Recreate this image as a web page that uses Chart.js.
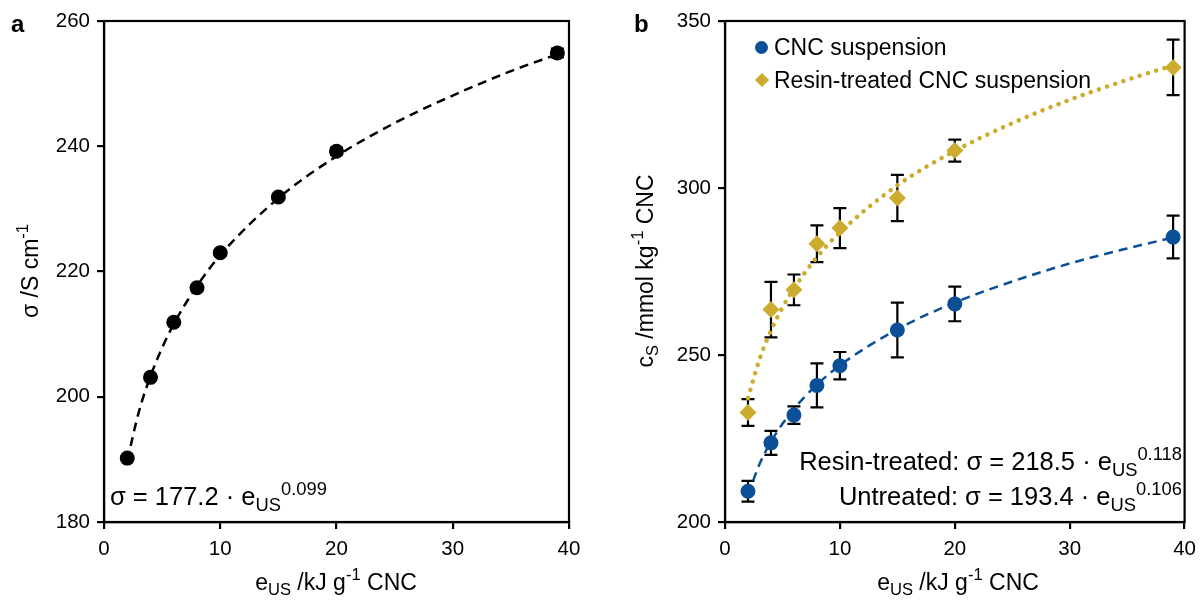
<!DOCTYPE html>
<html>
<head>
<meta charset="utf-8">
<script src="https://cdn.jsdelivr.net/npm/chart.js@4.4.1/dist/chart.umd.min.js"></script>
<style>
  html, body { margin:0; padding:0; background:#fff; }
  #wrap { position:relative; width:1204px; height:601px; background:#fff; font-family:"Liberation Sans", Arial, sans-serif; color:#000; }
  canvas { position:absolute; top:0; }
  .t { position:absolute; white-space:nowrap; line-height:1; }
  .c { transform:translate(-50%,-50%); }
  .rot { transform:translate(-50%,-50%) rotate(-90deg); }
  sub { font-size:0.72em; vertical-align:-0.32em; line-height:0; }
  sup { font-size:0.72em; vertical-align:0.55em; line-height:0; }
  .lab { font-weight:bold; font-size:24px; }
  .mk { position:absolute; }
</style>
</head>
<body>
<div id="wrap">
  <canvas id="ca" width="600" height="601" style="left:0;width:600px;height:601px"></canvas>
  <canvas id="cb" width="604" height="601" style="left:600px;width:604px;height:601px"></canvas>

  <div class="t lab" style="left:11px;top:12px">a</div>
  <div class="t lab" style="left:634px;top:12px">b</div>

  <div class="t rot" style="left:30px;top:271px;font-size:23px">σ /S cm<sup>-1</sup></div>
  <div class="t rot" style="left:645px;top:271px;font-size:23px">c<sub>S</sub> /mmol kg<sup>-1</sup> CNC</div>

  <div class="t c" style="left:336px;top:582px;font-size:23px">e<sub>US</sub> /kJ g<sup>-1</sup> CNC</div>
  <div class="t c" style="left:958px;top:582px;font-size:23px">e<sub>US</sub> /kJ g<sup>-1</sup> CNC</div>

  <div class="t" style="left:110px;top:484px;font-size:25.5px">σ = 177.2 · e<sub>US</sub><sup>0.099</sup></div>
  <div class="t" style="right:22px;top:449px;font-size:25.5px;text-align:right">Resin-treated: σ = 218.5 · e<sub>US</sub><sup>0.118</sup></div>
  <div class="t" style="right:22px;top:484px;font-size:25.5px;text-align:right">Untreated: σ = 193.4 · e<sub>US</sub><sup>0.106</sup></div>

  <div class="mk" style="left:755px;top:41px;width:13px;height:13px;border-radius:50%;background:#0b4f97"></div>
  <div class="t" style="left:774px;top:36px;font-size:23px">CNC suspension</div>
  <div class="mk" style="left:757px;top:75px;width:10px;height:10px;background:#ccab2e;transform:rotate(45deg)"></div>
  <div class="t" style="left:774px;top:69px;font-size:23px">Resin-treated CNC suspension</div>
</div>
<script>
// ---------- data ----------
const eUS = [2, 4, 6, 8, 10, 15, 20, 39];
const sigmaVals = [190.2, 203.1, 211.9, 217.4, 223.0, 231.9, 239.2, 254.9];
const sigmaErr = [0.3, 0.3, 0.3, 0.3, 0.4, 0.4, 0.6, 0.7];

const fitX = [2, 3, 4, 5, 6, 8, 10, 15, 20, 25, 30, 35, 39];
const sigmaFit = [189.8, 197.6, 203.3, 207.8, 211.6, 217.7, 222.6, 231.7, 238.4, 243.7, 248.1, 252.0, 254.7];

const cncVals = [209.2, 223.7, 232.0, 240.9, 246.8, 257.5, 265.3, 285.3];
const cncErr = [3.1, 3.6, 2.6, 6.6, 4.1, 8.2, 5.2, 6.4];
const resinVals = [232.8, 263.6, 269.5, 283.3, 288.0, 297.0, 311.2, 336.1];
const resinErr = [4.0, 8.3, 4.6, 5.5, 6.0, 6.9, 3.3, 8.3];

const cncFit = [208.1, 217.3, 224.0, 229.4, 233.9, 241.1, 246.9, 257.7, 265.7, 272.0, 277.4, 281.9, 285.2];
const resinFit = [237.1, 248.7, 257.3, 264.2, 269.9, 279.3, 286.7, 300.8, 311.1, 319.4, 326.4, 332.4, 336.7];

const xTicks = [0, 10, 20, 30, 40];
const yTicksA = [180, 200, 220, 240, 260];
const yTicksB = [200, 250, 300, 350];

const BLUE = '#0b4f97';
const GOLD = '#ccab2e';
const FONT = '"Liberation Sans", Arial, sans-serif';

const pts = (xs, ys) => xs.map((x, i) => ({ x: x, y: ys[i] }));

// ---------- plugins ----------
const errorBars = {
  id: 'errorBars',
  beforeDatasetsDraw(chart) {
    const ctx = chart.ctx, xs = chart.scales.x, ys = chart.scales.y;
    ctx.save();
    ctx.strokeStyle = '#000';
    ctx.lineWidth = 2.2;
    chart.data.datasets.forEach(ds => {
      if (!ds.err) return;
      ds.data.forEach((p, i) => {
        const e = ds.err[i];
        const x = xs.getPixelForValue(p.x);
        const y1 = ys.getPixelForValue(p.y + e);
        const y2 = ys.getPixelForValue(p.y - e);
        const w = 6.5;
        ctx.beginPath();
        ctx.moveTo(x, y1); ctx.lineTo(x, y2);
        ctx.moveTo(x - w, y1); ctx.lineTo(x + w, y1);
        ctx.moveTo(x - w, y2); ctx.lineTo(x + w, y2);
        ctx.stroke();
      });
    });
    ctx.restore();
  }
};
const frame = {
  id: 'frame',
  afterDraw(chart) {
    const a = chart.chartArea, ctx = chart.ctx;
    ctx.save();
    ctx.strokeStyle = '#000';
    ctx.lineWidth = 2.2;
    ctx.strokeRect(a.left, a.top, a.right - a.left, a.bottom - a.top);
    ctx.restore();
  }
};

function axes(yMin, yMax, yTicks, yWidth) {
  const tickFont = { family: FONT, size: 20.5 };
  return {
    x: {
      type: 'linear', min: 0, max: 40,
      afterBuildTicks: s => { s.ticks = xTicks.map(v => ({ value: v })); },
      afterFit: s => { s.height = 79; },
      ticks: { font: tickFont, color: '#000', padding: 8 },
      grid: { drawOnChartArea: false, drawTicks: true, tickLength: 7, color: '#000', lineWidth: 2.2 },
      border: { display: true, color: '#000', width: 2.2 },
      title: { display: false }
    },
    y: {
      type: 'linear', min: yMin, max: yMax,
      afterBuildTicks: s => { s.ticks = yTicks.map(v => ({ value: v })); },
      afterFit: s => { s.width = yWidth; },
      ticks: { font: tickFont, color: '#000', padding: 7 },
      grid: { drawOnChartArea: false, drawTicks: true, tickLength: 7, color: '#000', lineWidth: 2.2 },
      border: { display: true, color: '#000', width: 2.2 },
      title: { display: false }
    }
  };
}

const common = (padRight, yMin, yMax, yTicks, yWidth) => ({
  responsive: false,
  animation: false,
  devicePixelRatio: 1,
  layout: { padding: { top: 21, right: padRight, left: 0, bottom: 0 } },
  plugins: { legend: { display: false }, tooltip: { enabled: false }, title: { display: false } },
  scales: axes(yMin, yMax, yTicks, yWidth)
});

// ---------- chart a ----------
new Chart(document.getElementById('ca'), {
  type: 'scatter',
  data: {
    datasets: [
      {
        data: pts(fitX, sigmaFit), showLine: true, borderColor: '#000', borderWidth: 2.5,
        borderDash: [9, 6], pointRadius: 0, cubicInterpolationMode: 'monotone', fill: false
      },
      {
        data: pts(eUS, sigmaVals), err: sigmaErr, pointRadius: 7.5, pointStyle: 'circle',
        backgroundColor: '#000', borderColor: '#000', borderWidth: 0, showLine: false
      }
    ]
  },
  options: common(31, 180, 260, yTicksA, 104),
  plugins: [errorBars, frame]
});

// ---------- chart b ----------
new Chart(document.getElementById('cb'), {
  type: 'scatter',
  data: {
    datasets: [
      {
        data: pts(fitX, cncFit), showLine: true, borderColor: BLUE, borderWidth: 2.5,
        borderDash: [9, 6], pointRadius: 0, cubicInterpolationMode: 'monotone', fill: false
      },
      {
        data: pts(fitX, resinFit), showLine: true, borderColor: GOLD, borderWidth: 4.5,
        borderDash: [0.1, 8.5], borderCapStyle: 'round', pointRadius: 0, cubicInterpolationMode: 'monotone', fill: false
      },
      {
        label: 'CNC suspension',
        data: pts(eUS, cncVals), err: cncErr, pointRadius: 7.5, pointStyle: 'circle',
        backgroundColor: BLUE, borderColor: BLUE, borderWidth: 0, showLine: false
      },
      {
        label: 'Resin-treated CNC suspension',
        data: pts(eUS, resinVals), err: resinErr, pointRadius: 8.5, pointStyle: 'rectRot',
        backgroundColor: GOLD, borderColor: GOLD, borderWidth: 0, showLine: false
      }
    ]
  },
  options: common(13, 200, 350, yTicksB, 125),
  plugins: [errorBars, frame]
});
</script>
</body>
</html>
